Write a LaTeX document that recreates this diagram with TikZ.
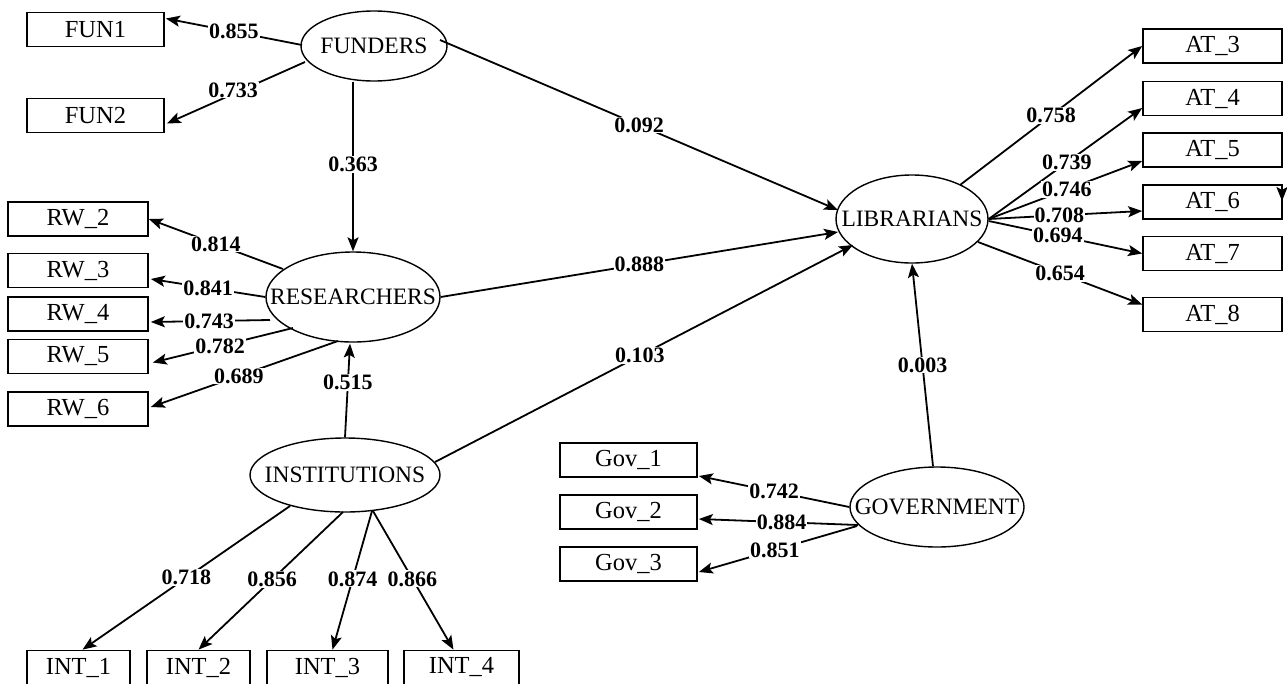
\documentclass[tikz,border=0pt]{standalone}
\usepackage{fontspec}
\setmainfont{Liberation Serif}
\usetikzlibrary{calc,arrows.meta,shapes.geometric}
\begin{document}
\begin{tikzpicture}[x=1pt,y=-1pt,
  obs/.style={draw, line width=1.7pt, rectangle, minimum height=34, inner sep=0pt,
              font=\fontsize{24.5}{29}\selectfont},
  lat/.style={draw, ellipse, line width=1.4pt, inner sep=0pt,
              font=\fontsize{23.5}{28}\selectfont},
  conn/.style={line width=1.8pt, -{Stealth[length=14pt,width=11pt,inset=3pt]}},
  lab/.style={fill=white, inner sep=1pt, font=\fontsize{22}{26}\selectfont\bfseries}]
\useasboundingbox (0,0) rectangle (1287,683);
% observed variables
\node[obs, minimum width=137] (FUN1) at (95.5,29.5) {FUN1};
\node[obs, minimum width=137] (FUN2) at (95.5,115.5) {FUN2};
\node[obs, minimum width=140] (RW2) at (78,219) {RW\_2};
\node[obs, minimum width=140] (RW3) at (78,270.5) {RW\_3};
\node[obs, minimum width=140] (RW4) at (78,314) {RW\_4};
\node[obs, minimum width=140] (RW5) at (78,356.5) {RW\_5};
\node[obs, minimum width=140] (RW6) at (78,409) {RW\_6};
\node[obs, minimum width=103] (INT1) at (78.5,667.5) {INT\_1};
\node[obs, minimum width=103] (INT2) at (198.5,667.5) {INT\_2};
\node[obs, minimum width=121] (INT3) at (327.5,667.5) {INT\_3};
\node[obs, minimum width=115] (INT4) at (461.5,667.5) {INT\_4};
\node[obs, minimum width=139] (AT3) at (1212.5,46) {AT\_3};
\node[obs, minimum width=139] (AT4) at (1212.5,98.5) {AT\_4};
\node[obs, minimum width=139] (AT5) at (1212.5,150) {AT\_5};
\node[obs, minimum width=139] (AT6) at (1212.5,202) {AT\_6};
\node[obs, minimum width=139] (AT7) at (1212.5,253.5) {AT\_7};
\node[obs, minimum width=139] (AT8) at (1212.5,314.5) {AT\_8};
\node[obs, minimum width=137] (Gov1) at (628.5,460) {Gov\_1};
\node[obs, minimum width=137] (Gov2) at (628.5,512) {Gov\_2};
\node[obs, minimum width=137] (Gov3) at (628.5,564) {Gov\_3};
% latent variables
\node[lat, minimum width=146, minimum height=70] (FUND) at (374,46) {\makebox[0pt]{FUNDERS}};
\node[lat, minimum width=174, minimum height=90] (RES) at (353,297) {\makebox[0pt]{RESEARCHERS}};
\node[lat, minimum width=190, minimum height=74] (INST) at (345,475) {\makebox[0pt]{INSTITUTIONS}};
\node[lat, minimum width=152, minimum height=88] (LIB) at (912,219) {\makebox[0pt]{LIBRARIANS}};
\node[lat, minimum width=174, minimum height=80] (GOV) at (937,507) {\makebox[0pt]{GOVERNMENT}};
% connectors
\draw[conn] ($(FUND)+(-72,-1)$) -- node[lab,pos=.5]{0.855} ($(FUN1.east)+(1,-11)$);
\draw[conn] ($(FUND)+(-69,16)$) -- node[lab,pos=.52,yshift=4pt]{0.733} ($(FUN2.east)+(2,8)$);
\draw[conn] (FUND.south -| RES.north) -- node[lab,pos=.49]{0.363} (RES.north);
\draw[conn] ($(FUND)+(66,-6)$) -- node[lab,pos=.5]{0.092} ($(LIB)+(-74,-9)$);
\draw[conn] ($(RES)+(-70,-28)$) -- node[lab,pos=.5]{0.814} (RW2.east);
\draw[conn] (RES.west) -- node[lab,pos=.5]{0.841} ($(RW3.east)+(2,8.5)$);
\draw[conn] ($(RES)+(-83,23)$) -- node[lab,pos=.51]{0.743} ($(RW4.east)+(2,8)$);
\draw[conn] ($(RES)+(-60,31)$) -- node[lab,pos=.52]{0.782} ($(RW5.east)+(4,6)$);
\draw[conn] ($(RES)+(-15,44)$) -- node[lab,pos=.53]{0.689} ($(RW6.east)+(2,-2)$);
\draw[conn] (INST.north) -- node[lab,pos=.59]{0.515} ($(RES.south)+(-3,1)$);
\draw[conn] (RES.east) -- node[lab,pos=.5]{0.888} ($(LIB)+(-74,13)$);
\draw[conn] ($(INST)+(90,-13)$) -- node[lab,pos=.49]{0.103} ($(LIB)+(-59,26)$);
\draw[conn] ($(INST)+(-55,31)$) -- node[lab,pos=.5]{0.718} ($(INT1.north)+(4,0)$);
\draw[conn] ($(INST)+(-2,37)$) -- node[lab,pos=.49]{0.856} (INT2.north);
\draw[conn] ($(INST)+(27,36)$) -- node[lab,pos=.49]{0.874} ($(INT3.north)+(5,0)$);
\draw[conn] ($(INST)+(28,36)$) -- node[lab,pos=.49]{0.866} ($(INT4.north)+(-8,0)$);
\draw[conn] ($(LIB)+(48,-34)$) -- node[lab,pos=.5]{0.758} (AT3.west);
\draw[conn] (LIB.east) -- node[lab,pos=.51]{0.739} ($(AT4.west)+(0,9.5)$);
\draw[conn] (LIB.east) -- node[lab,pos=.51]{0.746} ($(AT5.west)+(0,11)$);
\draw[conn] (LIB.east) -- node[lab,pos=.46]{0.708} ($(AT6.west)+(0,9)$);
\draw[conn] ($(LIB.east)+(0,2)$) -- node[lab,pos=.45]{0.694} (AT7.west);
\draw[conn] ($(LIB)+(66,23)$) -- node[lab,pos=.5]{0.654} ($(AT8.west)+(0,-10)$);
\draw[conn] ($(GOV.north)+(-4,0)$) -- node[lab,pos=.5]{0.003} (LIB.south);
\draw[conn] (GOV.west) -- node[lab,pos=.5]{0.742} ($(Gov1.east)+(1,16)$);
\draw[conn] ($(GOV)+(-79,18)$) -- node[lab,pos=.48]{0.884} ($(Gov2.east)+(1,7)$);
\draw[conn] ($(GOV)+(-80,19)$) -- node[lab,pos=.52]{0.851} ($(Gov3.east)+(1,8)$);
% stray arrowhead at AT_6
\coordinate (s1) at (1282,185);
\coordinate (s2) at (1282,201);
\draw[conn] (s1) -- (s2);
\end{tikzpicture}
\end{document}
